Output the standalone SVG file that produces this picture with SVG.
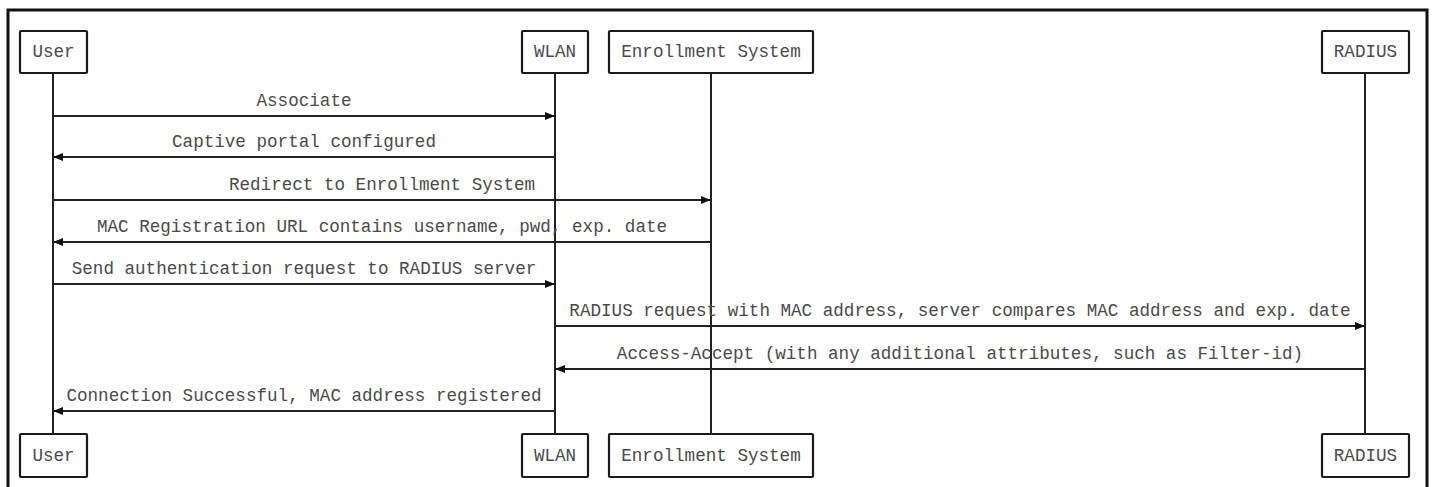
<svg xmlns="http://www.w3.org/2000/svg" width="1433" height="487" viewBox="0 0 1433 487">
<style>
.box{fill:#fff;stroke:#1a1a1a;stroke-width:2.2}
.life{stroke:#222;stroke-width:2}
.msg{stroke:#222;stroke-width:2;fill:none}
text{font-family:"Liberation Mono","Courier New",monospace;font-size:17.6px;fill:#4a4a4a;text-anchor:middle}
</style>
<defs>
<marker id="ah" markerWidth="10" markerHeight="8" refX="10" refY="4" orient="auto" markerUnits="userSpaceOnUse">
<path d="M0,0 L10,4 L0,8 Z" fill="#111"/>
</marker>
</defs>
<rect width="1433" height="487" fill="#fff"/>
<path d="M8,495 L8,10 L1427,10 L1427,495" fill="none" stroke="#111" stroke-width="3"/>
<g id="lifelines">
<line class="life" x1="53" y1="73" x2="53" y2="434"/>
<line class="life" x1="555" y1="73" x2="555" y2="434"/>
<line class="life" x1="711" y1="73" x2="711" y2="434"/>
<line class="life" x1="1365" y1="73" x2="1365" y2="434"/>
</g>
<g id="user">
<rect class="box" x="20" y="31" width="67" height="42" rx="1"/>
<text x="53.5" y="57">User</text>
<rect class="box" x="20" y="434" width="67" height="43" rx="1"/>
<text x="53.5" y="461">User</text>
</g>
<g id="wlan">
<rect class="box" x="522" y="31" width="66" height="42" rx="1"/>
<text x="555" y="57">WLAN</text>
<rect class="box" x="522" y="434" width="66" height="43" rx="1"/>
<text x="555" y="461">WLAN</text>
</g>
<g id="enrollment">
<rect class="box" x="609" y="31" width="204" height="42" rx="1"/>
<text x="711" y="57">Enrollment System</text>
<rect class="box" x="609" y="434" width="204" height="43" rx="1"/>
<text x="711" y="461">Enrollment System</text>
</g>
<g id="radius">
<rect class="box" x="1322" y="31" width="87" height="42" rx="1"/>
<text x="1365.5" y="57">RADIUS</text>
<rect class="box" x="1322" y="434" width="87" height="43" rx="1"/>
<text x="1365.5" y="461">RADIUS</text>
</g>
<g id="connectors">
<line class="msg" x1="53" y1="116" x2="555" y2="116" marker-end="url(#ah)"/>
<text x="304" y="106">Associate</text>
<line class="msg" x1="555" y1="157" x2="53" y2="157" marker-end="url(#ah)"/>
<text x="304" y="147">Captive portal configured</text>
<line class="msg" x1="53" y1="200" x2="711" y2="200" marker-end="url(#ah)"/>
<text x="382" y="190">Redirect to Enrollment System</text>
<line class="msg" x1="711" y1="242" x2="53" y2="242" marker-end="url(#ah)"/>
<text x="382" y="232">MAC Registration URL contains username, pwd, exp. date</text>
<line class="msg" x1="53" y1="284" x2="555" y2="284" marker-end="url(#ah)"/>
<text x="304" y="274">Send authentication request to RADIUS server</text>
<line class="msg" x1="555" y1="326" x2="1365" y2="326" marker-end="url(#ah)"/>
<text x="960" y="316">RADIUS request with MAC address, server compares MAC address and exp. date</text>
<line class="msg" x1="1365" y1="369" x2="555" y2="369" marker-end="url(#ah)"/>
<text x="960" y="359">Access-Accept (with any additional attributes, such as Filter-id)</text>
<line class="msg" x1="555" y1="411" x2="53" y2="411" marker-end="url(#ah)"/>
<text x="304" y="401">Connection Successful, MAC address registered</text>
</g>
</svg>
